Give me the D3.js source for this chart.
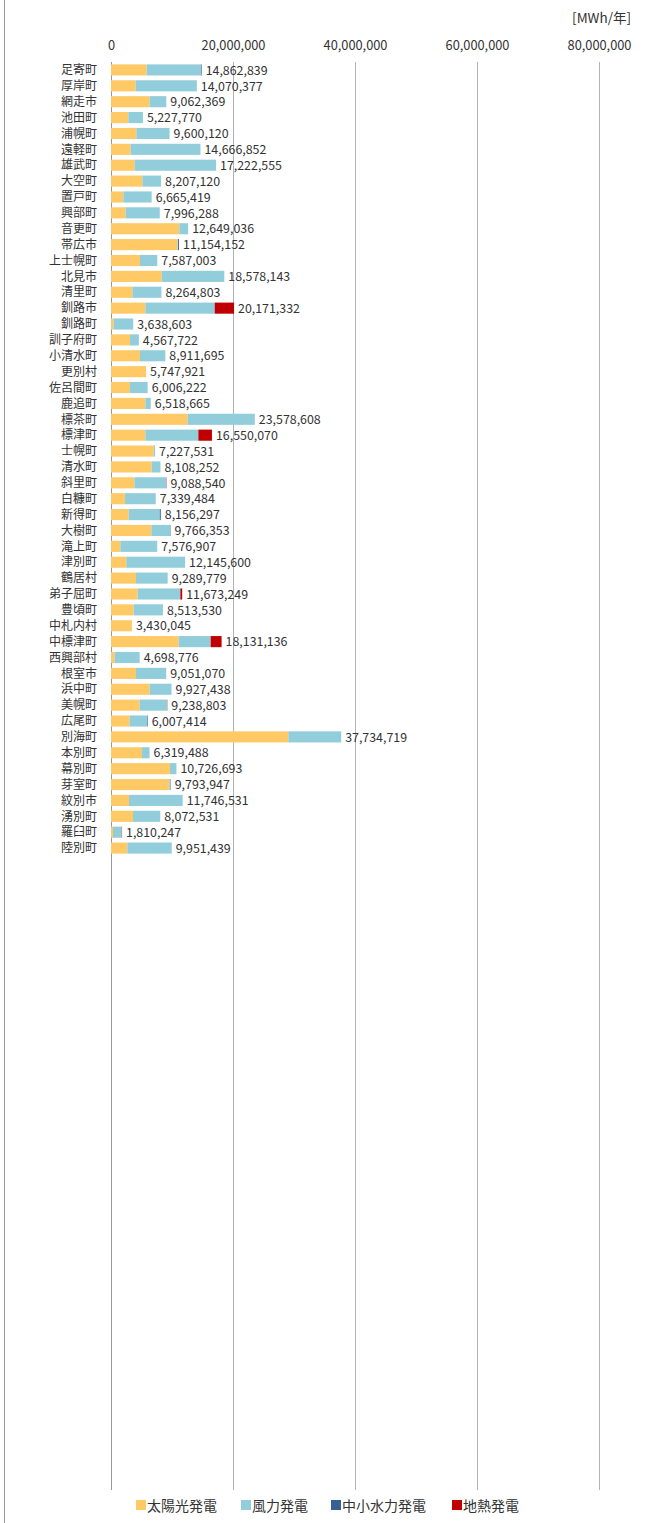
<!DOCTYPE html>
<html><head><meta charset="utf-8">
<script src="https://cdn.jsdelivr.net/npm/d3@7"></script>
<style>
body{margin:0;background:#fff;}
text{font-family:"Noto Sans CJK JP","Noto Sans",sans-serif;}
</style></head>
<body>
<svg id="chart" width="665" height="1523"></svg>
<script>
const categories = ["足寄町","厚岸町","網走市","池田町","浦幌町","遠軽町","雄武町","大空町","置戸町","興部町",
"音更町","帯広市","上士幌町","北見市","清里町","釧路市","釧路町","訓子府町","小清水町","更別村",
"佐呂間町","鹿追町","標茶町","標津町","士幌町","清水町","斜里町","白糠町","新得町","大樹町",
"滝上町","津別町","鶴居村","弟子屈町","豊頃町","中札内村","中標津町","西興部村","根室市","浜中町",
"美幌町","広尾町","別海町","本別町","幕別町","芽室町","紋別市","湧別町","羅臼町","陸別町"];
const totals = [14862839,14070377,9062369,5227770,9600120,14666852,17222555,8207120,6665419,7996288,
12649036,11154152,7587003,18578143,8264803,20171332,3638603,4567722,8911695,5747921,
6006222,6518665,23578608,16550070,7227531,8108252,9088540,7339484,8156297,9766353,
7576907,12145600,9289779,11673249,8513530,3430045,18131136,4698776,9051070,9927438,
9238803,6007414,37734719,6319488,10726693,9793947,11746531,8072531,1810247,9951439];
// 太陽光発電
const solar = [5850000,4040000,6340000,2840000,4150000,3220000,3880000,5140000,2020000,2400000,
11200000,10900000,4750000,8310000,3500000,5630000,440000,3110000,4750000,5747921,
3110000,5630000,12570000,5630000,7000000,6670000,3830000,2300000,2900000,6610000,
1530000,2510000,4100000,4370000,3720000,3430045,11090000,600000,4100000,6340000,
4700000,3060000,29070000,5080000,9670000,9560000,2950000,3610000,330000,2680000];
// 中小水力発電
const hydro = [100000,0,0,0,0,0,0,0,0,0,
0,150000,0,0,0,0,0,0,0,0,
0,0,0,0,0,0,0,0,150000,60000,
0,0,0,0,0,0,0,0,0,0,
0,100000,0,0,0,60000,0,0,0,0];
// 地熱発電
const geo = [0,0,0,0,0,0,0,0,0,0,
0,0,0,0,0,3170000,0,0,0,0,
0,0,0,2230000,0,0,50000,0,0,0,
0,0,0,300000,0,0,1790000,0,0,0,
40000,0,0,0,0,0,0,0,40000,0];
// 風力発電 = 合計 − 他
const wind = totals.map((t,i)=>Math.max(0,t-solar[i]-hydro[i]-geo[i]));
const seriesNames = ["太陽光発電","風力発電","中小水力発電","地熱発電"];
const seriesColors = ["#FFCA66","#92CDDC","#366092","#C00000"];
const xTicks = [0,20000000,40000000,60000000,80000000];
const unitLabel = "[MWh/年]";

const rows = categories.map((c,i)=>({cat:c,total:totals[i],"太陽光発電":solar[i],"風力発電":wind[i],"中小水力発電":hydro[i],"地熱発電":geo[i]}));

const svg = d3.select("#chart");
const x = d3.scaleLinear().domain([0,80000000]).range([111,599]);
const step = 15.88;
const y = d3.scaleBand().domain(categories).range([62, 62+step*categories.length]).paddingInner(0.3).paddingOuter(0.15);
const gridTop = 62, gridBottom = 1490;

// left frame line
svg.append("line").attr("x1",4.5).attr("x2",4.5).attr("y1",0).attr("y2",1523).attr("stroke","#999").attr("stroke-width",1);

// gridlines
svg.append("g").selectAll("line").data(xTicks).join("line")
  .attr("x1",d=>Math.round(x(d))+0.5).attr("x2",d=>Math.round(x(d))+0.5)
  .attr("y1",gridTop).attr("y2",gridBottom)
  .attr("stroke",(d)=>d===0?"#999":"#b3b3b3").attr("stroke-width",1);

// top axis labels
const xa = svg.append("g").attr("transform","translate(0,50)")
  .call(d3.axisTop(x).tickValues(xTicks).tickSize(0).tickPadding(0).tickFormat(d3.format(",")));
xa.select(".domain").remove();
xa.selectAll("text").attr("font-size",12.8).attr("fill","#333").attr("dy","0em")
  .style("font-family",'"Noto Sans CJK JP","Noto Sans",sans-serif');

svg.append("text").attr("x",631).attr("y",23).attr("text-anchor","end").attr("font-size",13.5).attr("fill","#333").text(unitLabel);

// stacked bars
const stack = d3.stack().keys(seriesNames);
const stacked = stack(rows);
const color = d3.scaleOrdinal().domain(seriesNames).range(seriesColors);
svg.append("g").selectAll("g").data(stacked).join("g").attr("fill",d=>color(d.key))
  .selectAll("rect").data(d=>d).join("rect")
  .attr("x",d=>x(d[0])).attr("width",d=>Math.max(0,x(d[1])-x(d[0])))
  .attr("y",d=>y(d.data.cat)).attr("height",y.bandwidth());

// category labels
svg.append("g").selectAll("text").data(categories).join("text")
  .attr("x",97).attr("y",d=>y(d)+y.bandwidth()/2).attr("dy","0.35em")
  .attr("text-anchor","end").attr("font-size",12).attr("fill","#333").text(d=>d);

// value labels
svg.append("g").selectAll("text").data(rows).join("text")
  .attr("x",d=>x(d.total)+4).attr("y",d=>y(d.cat)+y.bandwidth()/2).attr("dy","0.38em")
  .attr("font-size",12.4).attr("fill","#333").text(d=>d3.format(",")(d.total));

// legend
const lg = svg.append("g").attr("transform","translate(0,1506)");
const legendX = [136,241,331,452];
seriesNames.forEach((n,i)=>{
  lg.append("rect").attr("x",legendX[i]).attr("y",-6).attr("width",10).attr("height",10).attr("fill",seriesColors[i]);
  lg.append("text").attr("x",legendX[i]+11).attr("y",0).attr("dy","0.35em").attr("font-size",14).attr("fill","#333").text(n);
});
</script>
</body></html>
